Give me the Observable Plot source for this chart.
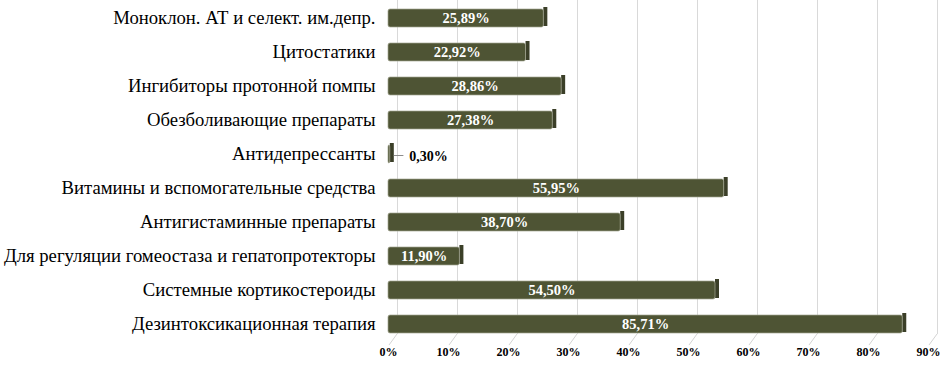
<!DOCTYPE html>
<html>
<head>
<meta charset="utf-8">
<script src="https://cdn.jsdelivr.net/npm/d3@7"></script>
<script src="https://cdn.jsdelivr.net/npm/@observablehq/plot@0.6"></script>
<style>
  html, body { margin: 0; padding: 0; background: #fff; }
  #chart svg { display: block; }
</style>
</head>
<body>
<div id="chart"></div>
<script>
const categories = [
  "Моноклон. АТ и селект. им.депр.",
  "Цитостатики",
  "Ингибиторы протонной помпы",
  "Обезболивающие препараты",
  "Антидепрессанты",
  "Витамины и вспомогательные средства",
  "Антигистаминные препараты",
  "Для регуляции гомеостаза и гепатопротекторы",
  "Системные кортикостероиды",
  "Дезинтоксикационная терапия"
];
const values = [25.89, 22.92, 28.86, 27.38, 0.30, 55.95, 38.70, 11.90, 54.50, 85.71];
const valueLabels = ["25,89%", "22,92%", "28,86%", "27,38%", "0,30%", "55,95%", "38,70%", "11,90%", "54,50%", "85,71%"];
const xTicks = [0, 10, 20, 30, 40, 50, 60, 70, 80, 90];
const xTickLabels = ["0%", "10%", "20%", "30%", "40%", "50%", "60%", "70%", "80%", "90%"];

const data = categories.map((c, i) => ({cat: c, v: values[i], label: valueLabels[i]}));
const inside = data.filter(d => d.v >= 5);
const outside = data.filter(d => d.v < 5);

const FACE = "#4e5434";
const SIDE = "#3b3f28";
const SERIF = "'Liberation Serif', 'Times New Roman', Times, serif";

// 3D floor diagonals under the gridlines
const floorMark = (index, scales, values, dims) => {
  const g = d3.create("svg:g");
  const yb = dims.height - dims.marginBottom;
  for (const t of xTicks) {
    const x = scales.x(t);
    g.append("line")
      .attr("x1", x + 9).attr("y1", yb)
      .attr("x2", x + 1).attr("y2", yb + 11)
      .attr("stroke", "#d4d4d4").attr("stroke-width", 1);
  }
  return g.node();
};

const plot = Plot.plot({
  width: 945,
  height: 372,
  marginLeft: 388,
  marginRight: 17,
  marginTop: 0,
  marginBottom: 38,
  style: {fontFamily: SERIF, background: "#fff", color: "#000"},
  x: {domain: [0, 90], ticks: xTicks, axis: null, label: null},
  y: {domain: categories, range: [-3.5, 345.5], paddingInner: 0.48, paddingOuter: 0.24, axis: null, label: null},
  marks: [
    Plot.ruleX(xTicks, {x: d => d, dx: 9, stroke: "#d9d9d9", strokeWidth: 1}),
    floorMark,
    // right side face (3D depth)
    Plot.barX(data, {x1: "v", x2: "v", y: "cat", insetRight: -4, insetTop: -2, insetBottom: 1, fill: SIDE}),
    // bar front face
    Plot.barX(data, {x1: 0, x2: "v", y: "cat", fill: FACE, rx: 2}),
    // light edge
    Plot.barX(data, {x1: 0, x2: "v", y: "cat", fill: "none", stroke: "#a4a692", strokeWidth: 0.7, rx: 2}),
    // labels inside bars
    Plot.text(inside, {x: d => d.v / 2, y: "cat", text: "label", fill: "white", fontWeight: "bold", fontSize: 14.5, fontFamily: SERIF}),
    // leader and label for tiny bar
    Plot.ruleY(outside, {y: "cat", x1: "v", x2: d => d.v + 1.6, dx: 4, dy: 1, stroke: "#8c8c8c", strokeWidth: 1}),
    Plot.text(outside, {x: "v", y: "cat", text: "label", dx: 19, dy: 2, textAnchor: "start", fill: "#000", fontWeight: "bold", fontSize: 14, fontFamily: SERIF}),
    // axes
    Plot.axisY({tickSize: 0, tickPadding: 13, fontSize: 18.7, fontFamily: SERIF, fill: "#000", label: null}),
    Plot.axisX(xTicks, {tickSize: 0, tickPadding: 13, tickFormat: (d, i) => xTickLabels[i], fontSize: 12, fontWeight: "bold", fontFamily: SERIF, fill: "#000", label: null})
  ]
});
document.getElementById("chart").append(plot);
</script>
</body>
</html>
